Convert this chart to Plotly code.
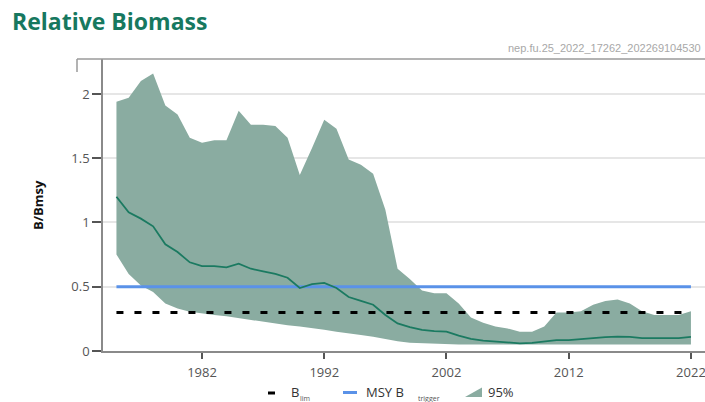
import plotly.graph_objects as go

# Stock assessment output: relative biomass (B/Bmsy) with 95% interval
years = list(range(1975, 2023))

median = [1.20, 1.08, 1.03, 0.97, 0.83, 0.77, 0.69, 0.66, 0.66, 0.65,
          0.68, 0.64, 0.62, 0.60, 0.57, 0.49, 0.52, 0.53, 0.49, 0.42,
          0.39, 0.36, 0.28, 0.215, 0.185, 0.165, 0.155, 0.15, 0.12, 0.095,
          0.08, 0.072, 0.065, 0.06, 0.063, 0.072, 0.085, 0.085, 0.09, 0.10,
          0.108, 0.112, 0.11, 0.10, 0.10, 0.10, 0.10, 0.11]

upper95 = [1.94, 1.97, 2.10, 2.16, 1.91, 1.84, 1.66, 1.62, 1.64, 1.64,
           1.87, 1.76, 1.76, 1.75, 1.66, 1.37, 1.58, 1.80, 1.73, 1.49,
           1.45, 1.38, 1.10, 0.64, 0.56, 0.47, 0.45, 0.45, 0.37, 0.26,
           0.22, 0.19, 0.175, 0.15, 0.15, 0.19, 0.30, 0.30, 0.31, 0.36,
           0.39, 0.40, 0.37, 0.31, 0.28, 0.28, 0.28, 0.31]

lower95 = [0.75, 0.60, 0.51, 0.46, 0.37, 0.33, 0.305, 0.29, 0.28, 0.27,
           0.255, 0.24, 0.23, 0.21, 0.20, 0.19, 0.18, 0.165, 0.15, 0.14,
           0.125, 0.11, 0.09, 0.075, 0.065, 0.06, 0.055, 0.05, 0.05, 0.05,
           0.05, 0.05, 0.05, 0.05, 0.05, 0.05, 0.05, 0.05, 0.05, 0.05,
           0.05, 0.05, 0.05, 0.05, 0.05, 0.05, 0.05, 0.05]

b_lim = 0.3
msy_b_trigger = 0.5

x_ticks = [1982, 1992, 2002, 2012, 2022]
y_ticks = [0, 0.5, 1, 1.5, 2]

BAND = "rgb(138,172,161)"
MEDIAN = "#1b7a61"
BLUE = "#5a92e8"
TITLE_GREEN = "#17785f"

W, H = 705, 402
L, R, T, B = 103, 0, 59, 51


def px(xp):
    return (xp - L) / (W - L - R)


def py(yp):
    return (H - B - yp) / (H - T - B)


fig = go.Figure()

fig.add_trace(go.Scatter(x=years, y=lower95, mode="lines",
                         line=dict(width=0, color=BAND), hoverinfo="skip",
                         showlegend=False))
fig.add_trace(go.Scatter(x=years, y=upper95, mode="lines", fill="tonexty",
                         fillcolor=BAND, line=dict(width=0, color=BAND),
                         name="95%", showlegend=False))
fig.add_trace(go.Scatter(x=[years[0], years[-1]], y=[msy_b_trigger] * 2,
                         mode="lines", line=dict(color=BLUE, width=3),
                         name="MSY Btrigger", showlegend=False))
fig.add_trace(go.Scatter(x=[years[0], years[-1]], y=[b_lim] * 2,
                         mode="lines",
                         line=dict(color="black", width=3, dash="7px,11px"),
                         name="Blim", showlegend=False))
fig.add_trace(go.Scatter(x=years, y=median, mode="lines",
                         line=dict(color=MEDIAN, width=1.8),
                         name="median", showlegend=False))

tick_font = dict(family="Open Sans, sans-serif", size=13, color="#555")

fig.update_xaxes(range=[1973.9, 2023.15], tickvals=x_ticks,
                 ticktext=[str(v) for v in x_ticks],
                 showgrid=False, zeroline=False,
                 showline=True, linecolor="#8a8a8a", linewidth=1.5,
                 ticks="outside", ticklen=6, tickcolor="#555", tickwidth=1.5,
                 ticklabelstandoff=3, ticklabeloverflow="allow",
                 tickfont=tick_font)
fig.update_yaxes(range=[0, 2.272], tickvals=y_ticks,
                 ticktext=["0", "0.5", "1", "1.5", "2"],
                 showgrid=True, gridcolor="#e6e6e6", gridwidth=1.5,
                 zeroline=False,
                 showline=True, linecolor="#8a8a8a", linewidth=1.5,
                 ticks="outside", ticklen=9, tickcolor="#555", tickwidth=1.5,
                 tickfont=tick_font)

shapes = [
    # panel frame (top edge and short left corner)
    dict(type="line", xref="paper", yref="paper", x0=px(77), x1=1.0,
         y0=py(59), y1=py(59), line=dict(color="#9a9a9a", width=1.5)),
    dict(type="line", xref="paper", yref="paper", x0=px(77), x1=px(77),
         y0=py(59), y1=py(72), line=dict(color="#9a9a9a", width=1.5)),
    # legend keys
    dict(type="line", xref="paper", yref="paper", x0=px(268), x1=px(275),
         y0=py(393), y1=py(393), line=dict(color="black", width=3)),
    dict(type="line", xref="paper", yref="paper", x0=px(343), x1=px(357),
         y0=py(392.5), y1=py(392.5), line=dict(color=BLUE, width=3)),
    dict(type="path", xref="paper", yref="paper",
         path=f"M {px(465)} {py(397)} L {px(482)} {py(397)} L {px(482)} {py(387.5)} Z",
         fillcolor=BAND, line=dict(width=0)),
]

leg_font = dict(family="Open Sans, sans-serif", size=13, color="#333")
sub_font = dict(family="Open Sans, sans-serif", size=7, color="#555")
annotations = [
    dict(text="B/Bmsy", xref="paper", yref="paper", x=px(38), y=0.5,
         textangle=-90, showarrow=False, xanchor="center", yanchor="middle",
         font=dict(family="Open Sans, sans-serif", size=13, color="#111",
                   weight="bold")),
    dict(text="nep.fu.25_2022_17262_202269104530", xref="paper", yref="paper",
         x=px(506), y=py(48), xanchor="left", yanchor="middle",
         showarrow=False,
         font=dict(family="Liberation Sans, Arial, sans-serif", size=11,
                   color="#a8a8a8")),
    dict(text="B", xref="paper", yref="paper", x=px(289), y=py(392),
         xanchor="left", yanchor="middle", showarrow=False, font=leg_font),
    dict(text="lim", xref="paper", yref="paper", x=px(298), y=py(398),
         xanchor="left", yanchor="middle", showarrow=False, font=sub_font),
    dict(text="MSY B", xref="paper", yref="paper", x=px(364), y=py(392),
         xanchor="left", yanchor="middle", showarrow=False, font=leg_font),
    dict(text="trigger", xref="paper", yref="paper", x=px(416), y=py(398),
         xanchor="left", yanchor="middle", showarrow=False, font=sub_font),
    dict(text="95%", xref="paper", yref="paper", x=px(486), y=py(392),
         xanchor="left", yanchor="middle", showarrow=False, font=leg_font),
]

fig.update_layout(
    width=W, height=H,
    margin=dict(l=L, r=R, t=T, b=B, pad=0),
    paper_bgcolor="white", plot_bgcolor="white",
    title=dict(text="<b>Relative Biomass</b>", xref="container",
               yref="container", x=12 / W, y=1 - 22 / H,
               xanchor="left", yanchor="middle",
               font=dict(family="Open Sans, sans-serif", size=23,
                         color=TITLE_GREEN)),
    shapes=shapes,
    annotations=annotations,
    showlegend=False,
)

fig.write_html("out.html")
